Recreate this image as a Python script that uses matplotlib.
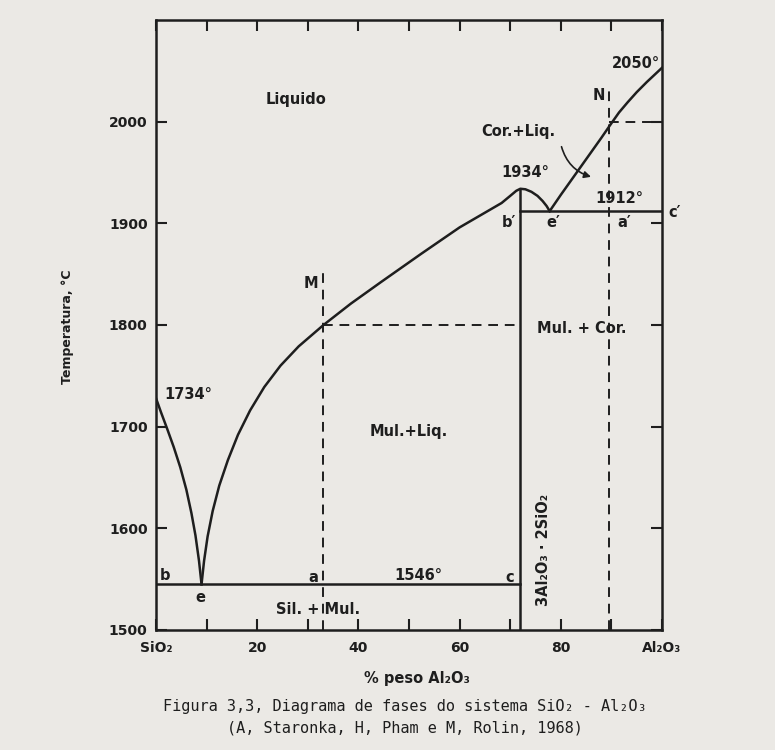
import matplotlib.pyplot as plt

# liquidus on the silica side (SiO2 -> eutectic e)
sio2_x = [0, 1.0, 2.2, 3.5, 4.8, 6.0, 7.0, 7.8, 8.5, 9.0]
sio2_t = [1728, 1714, 1698, 1680, 1660, 1638, 1615, 1593, 1568, 1545]

# mullite liquidus (e -> congruent melting point -> e')
mullite_x = [9.0, 9.5, 10.2, 11.2, 12.5, 14.2, 16.2, 18.6, 21.4, 24.6, 28.2, 33.1,
             38.5, 44.4, 48.4, 52.4, 60.0, 68.3, 70.0, 71.2, 72.0, 73.0, 74.2,
             75.4, 76.4, 77.2, 77.8]
mullite_t = [1545, 1568, 1592, 1617, 1642, 1667, 1692, 1716, 1739, 1760, 1779, 1800,
             1821, 1842, 1856, 1870, 1896, 1920, 1927, 1932, 1934, 1933.5, 1931,
             1927, 1922, 1917, 1912]

# corundum liquidus (e' -> Al2O3)
corundum_x = [77.8, 80.0, 82.0, 84.0, 86.0, 88.0, 89.8, 91.5, 93.2, 95.0, 97.0, 100]
corundum_t = [1912, 1928, 1942, 1956, 1970, 1984, 1997, 2009, 2019, 2029, 2039, 2053]

eutectic_t = 1545
eutectic2_t = 1912
mullite_comp = 72.0
peak_t = 1934
m_comp = 33.1
n_comp = 89.6

x_ticks = [0, 10, 20, 30, 40, 50, 60, 70, 80, 90, 100]
x_labels = ["SiO₂", "", "20", "", "40", "", "60", "", "80", "", "Al₂O₃"]
y_ticks = [1500, 1600, 1700, 1800, 1900, 2000]

labels = [
    ("Liquido", 27.6, 2022),
    ("Cor.+Liq.", 71.6, 1990),
    ("1934°", 73.0, 1950),
    ("1912°", 91.5, 1924),
    ("N", 87.5, 2026),
    ("b′", 69.8, 1901),
    ("e′", 78.6, 1901),
    ("a′", 92.5, 1901),
    ("Mul. + Cor.", 84.1, 1797),
    ("M", 30.6, 1841),
    ("1734°", 6.3, 1732),
    ("Mul.+Liq.", 50.0, 1695),
    ("b", 1.8, 1554),
    ("a", 31.0, 1552),
    ("1546°", 51.8, 1554),
    ("c", 69.8, 1552),
    ("e", 8.7, 1532),
    ("Sil. + Mul.", 32.1, 1520),
]

ink = "#1e1e1e"
paper = "#ebe9e5"

plt.rcParams["font.family"] = ["DejaVu Sans"]

fig = plt.figure(figsize=(7.75, 7.5), dpi=100, facecolor=paper)
ax = fig.add_axes([156 / 775, 120 / 750, 506 / 775, 610 / 750])
ax.set_facecolor(paper)

ax.plot(sio2_x, sio2_t, color=ink, lw=1.8)
ax.plot(mullite_x, mullite_t, color=ink, lw=1.8)
ax.plot(corundum_x, corundum_t, color=ink, lw=1.8)

ax.plot([0, mullite_comp], [eutectic_t, eutectic_t], color=ink, lw=1.8)
ax.plot([mullite_comp, 100], [eutectic2_t, eutectic2_t], color=ink, lw=1.8)
ax.plot([mullite_comp, mullite_comp], [1500, peak_t], color=ink, lw=1.8)

dash = (5, 3.5)
ax.plot([m_comp, m_comp], [1500, 1856], color=ink, lw=1.4, dashes=dash)
ax.plot([m_comp, mullite_comp], [1800, 1800], color=ink, lw=1.4, dashes=dash)
ax.plot([n_comp, n_comp], [1500, 2034], color=ink, lw=1.4, dashes=dash)
ax.plot([n_comp, 100], [2000, 2000], color=ink, lw=1.4, dashes=dash)

for text, x, y in labels:
    ax.text(x, y, text, ha="center", va="center", fontsize=10.5,
            fontweight="bold", color=ink)

ax.text(99.6, 2057, "2050°", ha="right", va="center", fontsize=10.5,
        fontweight="bold", color=ink)
ax.text(102.4, 1911, "c′", ha="center", va="center", fontsize=10.5,
        fontweight="bold", color=ink, clip_on=False)
ax.text(76.6, 1579, "3Al₂O₃ · 2SiO₂", ha="center", va="center", rotation=90,
        fontsize=10.5, fontweight="bold", color=ink)

ax.annotate("", xy=(86.5, 1945), xytext=(80.0, 1978),
            arrowprops=dict(arrowstyle="-|>", connectionstyle="arc3,rad=0.3",
                            color=ink, lw=1.2, mutation_scale=10))

ax.set_xlim(0, 100)
ax.set_ylim(1500, 2100)
ax.set_xticks(x_ticks)
ax.set_xticklabels(x_labels)
ax.set_yticks(y_ticks)

ax.tick_params(direction="in", length=8, width=1.5, color=ink,
               top=True, right=True, labelsize=10, labelcolor=ink)
ax.tick_params(axis="x", pad=8)
ax.tick_params(axis="y", pad=6)
for lab in ax.get_xticklabels() + ax.get_yticklabels():
    lab.set_fontweight("bold")

for spine in ax.spines.values():
    spine.set_linewidth(1.8)
    spine.set_color(ink)

fig.text(68 / 775, 1 - 327 / 750, "Temperatura, °C", rotation=90, ha="center",
         va="center", fontsize=9, fontweight="bold", color=ink)
fig.text(417 / 775, 1 - 678 / 750, "% peso Al₂O₃", ha="center", va="center",
         fontsize=10.5, fontweight="bold", color=ink)
fig.text(405 / 775, 1 - 707 / 750,
         "Figura 3,3, Diagrama de fases do sistema SiO₂ - Al₂O₃",
         ha="center", va="center", fontsize=11, family="DejaVu Sans Mono", color=ink)
fig.text(405 / 775, 1 - 728 / 750,
         "(A, Staronka, H, Pham e M, Rolin, 1968)",
         ha="center", va="center", fontsize=11, family="DejaVu Sans Mono", color=ink)

fig.savefig("out.png", dpi=100, facecolor=paper)
